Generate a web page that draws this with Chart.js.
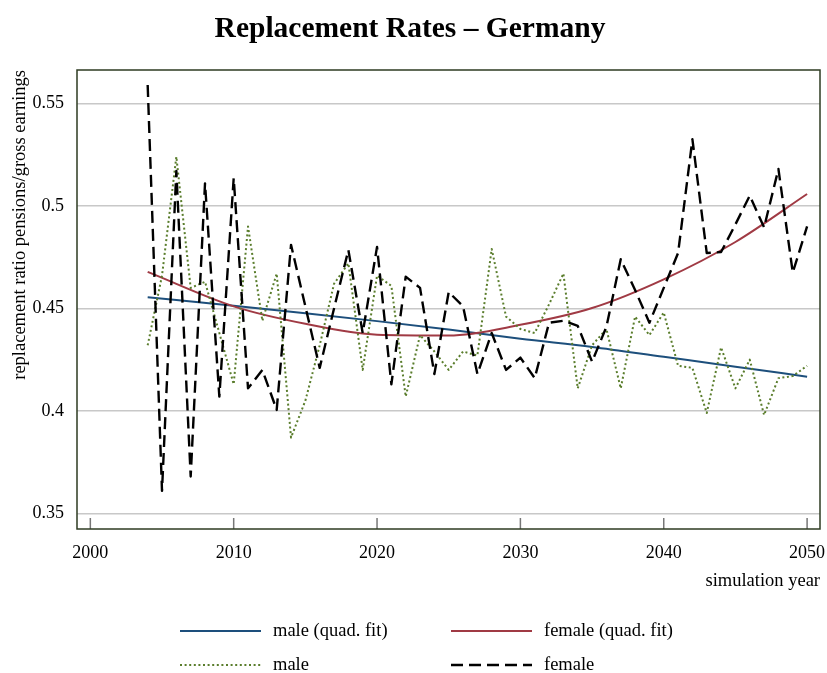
<!DOCTYPE html>
<html lang="en">
  <head>
    <meta charset="utf-8" />
    <title>Replacement Rates – Germany</title>
    <style>
      * {
        margin: 0;
        padding: 0;
      }
      body {
        background: #fff;
      }
      .chartBox {
        width: 827px;
        height: 673px;
      }
    </style>
  </head>
  <body>
    <div class="chartBox">
      <canvas id="myChart" width="827" height="673"></canvas>
    </div>

    <script src="https://cdn.jsdelivr.net/npm/chart.js"></script>

    <script>
      // data block
      const years = [
        2004, 2005, 2006, 2007, 2008, 2009, 2010, 2011, 2012, 2013, 2014, 2015,
        2016, 2017, 2018, 2019, 2020, 2021, 2022, 2023, 2024, 2025, 2026, 2027,
        2028, 2029, 2030, 2031, 2032, 2033, 2034, 2035, 2036, 2037, 2038, 2039,
        2040, 2041, 2042, 2043, 2044, 2045, 2046, 2047, 2048, 2049, 2050,
      ];
      const maleValues = [
        0.432, 0.466, 0.524, 0.46, 0.463, 0.438, 0.413, 0.49, 0.444, 0.467,
        0.387, 0.405, 0.432, 0.462, 0.472, 0.42, 0.466, 0.461, 0.407, 0.437,
        0.429, 0.42, 0.429, 0.427, 0.479, 0.446, 0.44, 0.438, 0.452, 0.467,
        0.411, 0.432, 0.44, 0.411, 0.446, 0.437, 0.448, 0.422, 0.421, 0.399,
        0.431, 0.411, 0.425, 0.398, 0.416, 0.417, 0.422,
      ];
      const femaleValues = [
        0.559, 0.361, 0.517, 0.368, 0.511, 0.407, 0.5135, 0.411, 0.42, 0.4005,
        0.481, 0.451, 0.421, 0.45, 0.4785, 0.438, 0.48, 0.413, 0.4655, 0.46,
        0.418, 0.458, 0.451, 0.418, 0.438, 0.42, 0.426, 0.416, 0.443, 0.444,
        0.4415, 0.424, 0.441, 0.474, 0.459, 0.443, 0.46, 0.477, 0.5325, 0.477,
        0.4775, 0.491, 0.505, 0.4895, 0.518, 0.4675, 0.49,
      ];
      // quadratic fits at a few years
      const fitYears = [2004, 2010, 2015, 2020, 2025, 2030, 2035, 2040, 2045, 2050];
      const maleFit = [0.4555, 0.4513, 0.4477, 0.4438, 0.4397, 0.4352, 0.4312, 0.4264, 0.4216, 0.4167];
      const femaleFit = [0.4678, 0.451, 0.4425, 0.4372, 0.4368, 0.442, 0.4502, 0.4642, 0.4824, 0.5058];

      const xTicks = [2000, 2010, 2020, 2030, 2040, 2050];
      const yTicks = [0.35, 0.4, 0.45, 0.5, 0.55];

      const serif = "'Liberation Serif', 'Times New Roman', serif";
      const pairs = (xs, ys) => xs.map((x, i) => ({ x: x, y: ys[i] }));

      const data = {
        datasets: [
          {
            label: "male (quad. fit)",
            data: pairs(fitYears, maleFit),
            borderColor: "#1d4f7c",
            borderWidth: 2,
            cubicInterpolationMode: "monotone",
            order: 3,
          },
          {
            label: "female (quad. fit)",
            data: pairs(fitYears, femaleFit),
            borderColor: "#a03a44",
            borderWidth: 2,
            cubicInterpolationMode: "monotone",
            order: 2,
          },
          {
            label: "male",
            data: pairs(years, maleValues),
            borderColor: "#5a7d2c",
            borderWidth: 2,
            borderDash: [2, 2.6],
            order: 1,
          },
          {
            label: "female",
            data: pairs(years, femaleValues),
            borderColor: "#000000",
            borderWidth: 2.4,
            borderDash: [12, 6],
            order: 0,
          },
        ],
      };

      // frame + inner x ticks
      const framePlugin = {
        id: "frame",
        afterDatasetsDraw(chart) {
          const { ctx, chartArea, scales } = chart;
          ctx.save();
          ctx.strokeStyle = "#777";
          ctx.lineWidth = 1.5;
          xTicks.forEach((v) => {
            const x = scales.x.getPixelForValue(v);
            ctx.beginPath();
            ctx.moveTo(x, chartArea.bottom - 11);
            ctx.lineTo(x, chartArea.bottom);
            ctx.stroke();
          });
          ctx.strokeStyle = "#2e3b22";
          ctx.lineWidth = 1.5;
          ctx.strokeRect(
            chartArea.left,
            chartArea.top,
            chartArea.right - chartArea.left,
            chartArea.bottom - chartArea.top
          );
          ctx.restore();
        },
      };

      // legend in two columns under the x axis
      const legendSlots = [
        { x: 180, y: 631 },
        { x: 451, y: 631 },
        { x: 180, y: 665 },
        { x: 451, y: 665 },
      ];
      const gridLegend = {
        id: "gridLegend",
        afterDraw(chart) {
          const { ctx } = chart;
          ctx.save();
          chart.data.datasets.forEach((ds, i) => {
            const slot = legendSlots[i];
            ctx.strokeStyle = ds.borderColor;
            ctx.lineWidth = ds.borderWidth;
            ctx.setLineDash(ds.borderDash || []);
            ctx.beginPath();
            ctx.moveTo(slot.x, slot.y);
            ctx.lineTo(slot.x + 81, slot.y);
            ctx.stroke();
            ctx.setLineDash([]);
            ctx.fillStyle = "#000";
            ctx.font = `18.5px ${serif}`;
            ctx.textAlign = "left";
            ctx.textBaseline = "middle";
            ctx.fillText(ds.label, slot.x + 93, slot.y);
          });
          ctx.restore();
        },
      };

      const config = {
        type: "line",
        data: data,
        options: {
          responsive: false,
          animation: false,
          devicePixelRatio: 1,
          elements: {
            point: { radius: 0 },
            line: { tension: 0, borderJoinStyle: "round" },
          },
          layout: { padding: { left: 0, right: 7, top: 0, bottom: 0 } },
          plugins: {
            legend: { display: false },
            tooltip: { enabled: false },
            title: {
              display: true,
              text: "Replacement Rates – Germany",
              color: "#000",
              font: { family: serif, size: 29.5, weight: "bold", lineHeight: 1.2 },
              padding: { top: 12, bottom: 22.6 },
            },
          },
          scales: {
            x: {
              type: "linear",
              min: 1999.07,
              max: 2050.9,
              afterBuildTicks: (s) => {
                s.ticks = xTicks.map((v) => ({ value: v }));
              },
              afterFit: (s) => {
                s.height = 144;
                s.paddingLeft = 0;
                s.paddingRight = 0;
              },
              grid: { display: false, drawTicks: false },
              border: { display: false },
              ticks: {
                color: "#000",
                font: { family: serif, size: 18 },
                padding: 13,
                maxRotation: 0,
                callback: (v) => String(v),
              },
              title: {
                display: true,
                text: "simulation year",
                align: "end",
                color: "#000",
                font: { family: serif, size: 18.5, lineHeight: 1.2 },
                padding: { top: 0, bottom: 81 },
              },
            },
            y: {
              min: 0.3424,
              max: 0.5663,
              afterBuildTicks: (s) => {
                s.ticks = yTicks.map((v) => ({ value: v }));
              },
              afterFit: (s) => {
                s.width = 77;
                s.paddingTop = 0;
                s.paddingBottom = 0;
              },
              grid: { color: "#c8c8c8", lineWidth: 1.5, drawTicks: false },
              border: { display: false },
              ticks: {
                color: "#000",
                font: { family: serif, size: 18 },
                padding: 13,
                callback: (v) => String(+v.toFixed(2)),
              },
              title: {
                display: true,
                text: "replacement ratio pensions/gross earnings",
                align: "end",
                color: "#000",
                font: { family: serif, size: 18.5, lineHeight: 1.2 },
                padding: { top: 9, bottom: 0 },
              },
            },
          },
        },
        plugins: [framePlugin, gridLegend],
      };

      const myChart = new Chart(document.getElementById("myChart"), config);
    </script>
  </body>
</html>
